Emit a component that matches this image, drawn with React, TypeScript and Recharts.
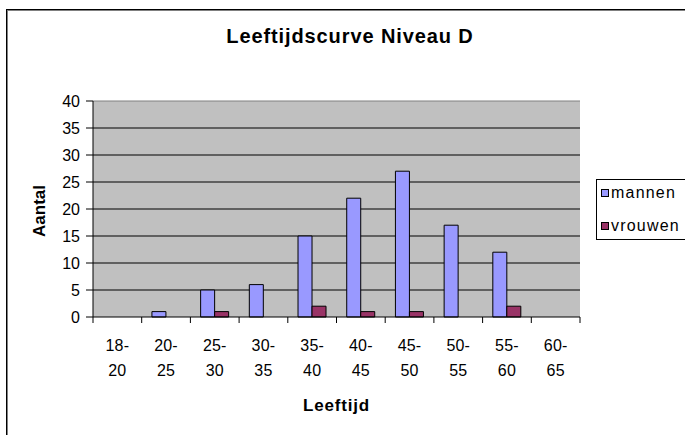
import React from 'react';
import { BarChart, Bar, XAxis, YAxis, CartesianGrid, Legend, ReferenceLine, Label } from 'recharts';

const categories = ['18-20', '20-25', '25-30', '30-35', '35-40', '40-45', '45-50', '50-55', '55-60', '60-65'];
const mannen = [0, 1, 5, 6, 15, 22, 27, 17, 12, 0];
const vrouwen = [0, 0, 1, 0, 2, 1, 1, 0, 2, 0];
const yTicks = [0, 5, 10, 15, 20, 25, 30, 35, 40];

const data = categories.map((c, i) => ({ cat: c, mannen: mannen[i], vrouwen: vrouwen[i] }));

const W = 685;
const H = 435;
const PLOT_W = 487;
const HALF_BAND = PLOT_W / categories.length / 2;
const FONT = 'Arial, "Liberation Sans", sans-serif';

const CatTick = (props: any) => {
    const { x, y, payload, index } = props;
    const parts = String(payload.value).split('-');
    const last = index === categories.length - 1;
    return (
        <g>
            <line x1={x - HALF_BAND} y1={y - 6} x2={x - HALF_BAND} y2={y} stroke="#000" />
            {last && <line x1={x + HALF_BAND} y1={y - 6} x2={x + HALF_BAND} y2={y} stroke="#000" />}
            <text x={x} y={y + 28} textAnchor="middle" fontSize={16} fontFamily={FONT} fill="#000" letterSpacing={0.2}>
                {parts[0] + '-'}
            </text>
            <text x={x} y={y + 53} textAnchor="middle" fontSize={16} fontFamily={FONT} fill="#000" letterSpacing={0.2}>
                {parts[1]}
            </text>
        </g>
    );
};

const LegendBox = (props: any) => {
    const items = props.payload || [];
    return (
        <div style={{ border: '1px solid #000', background: '#fff', width: 100, height: 61, boxSizing: 'border-box', fontFamily: FONT, fontSize: 16 }}>
            {items.map((it: any, i: number) => (
                <div key={it.value} style={{ position: 'absolute', left: 5, top: 5 + i * 33, display: 'flex', alignItems: 'center', whiteSpace: 'nowrap' }}>
                    <span style={{ display: 'inline-block', width: 6, height: 6, background: it.color, border: '1px solid #000', marginRight: 2 }} />
                    <span style={{ letterSpacing: 1.2 }}>{it.value}</span>
                </div>
            ))}
        </div>
    );
};

export default function App() {
    return (
        <div style={{ position: 'absolute', left: 0, top: 0, width: W, height: H, overflow: 'hidden', background: '#fff' }}>
            <div style={{ position: 'absolute', left: 6, top: 9, width: 720, height: 460, border: '1px solid #000', boxShadow: 'inset 1px 1px 0 #808080' }} />
            <div style={{ position: 'absolute', left: 0, top: 25, width: 700, textAlign: 'center', fontFamily: FONT, fontWeight: 'bold', fontSize: 20, letterSpacing: 0.9 }}>
                Leeftijdscurve Niveau D
            </div>
            <div style={{ position: 'absolute', left: 40, top: 211, transform: 'translate(-50%, -50%) rotate(-90deg)', fontFamily: FONT, fontWeight: 'bold', fontSize: 17, whiteSpace: 'nowrap' }}>
                Aantal
            </div>
            <BarChart
                width={W}
                height={H}
                data={data}
                margin={{ top: 101, right: 105, bottom: 38, left: 43 }}
                barCategoryGap="21%"
                barGap={0}
                style={{ position: 'absolute', left: 0, top: 0 }}
            >
                <CartesianGrid fill="#C0C0C0" vertical={false} stroke="#000" horizontalValues={[5, 10, 15, 20, 25, 30, 35]} />
                <XAxis dataKey="cat" height={80} tickSize={6} tickMargin={0} tickLine={false} tick={<CatTick />} axisLine={{ stroke: '#000' }} interval={0}>
                    <Label value="Leeftijd" position="bottom" offset={2} fontFamily={FONT} fontWeight="bold" fontSize={17} fill="#000" letterSpacing={0.8} />
                </XAxis>
                <YAxis
                    domain={[0, 40]}
                    ticks={yTicks}
                    width={50}
                    tickSize={7}
                    tickMargin={6}
                    interval={0}
                    axisLine={{ stroke: '#000' }}
                    tickLine={{ stroke: '#000' }}
                    tick={{ fill: '#000', fontSize: 16, fontFamily: FONT }}
                />
                <YAxis yAxisId="r" orientation="right" width={0} domain={[0, 40]} tick={false} tickLine={false} axisLine={{ stroke: '#808080' }} />
                <ReferenceLine y={40} stroke="#808080" />
                <Legend layout="horizontal" verticalAlign="middle" align="center" content={<LegendBox />} wrapperStyle={{ position: 'absolute', left: 596, top: 179, width: 100, height: 61 }} />
                <Bar dataKey="mannen" name="mannen" fill="#9999FF" stroke="#000" strokeWidth={1} isAnimationActive={false} />
                <Bar dataKey="vrouwen" name="vrouwen" fill="#993366" stroke="#000" strokeWidth={1} isAnimationActive={false} />
            </BarChart>
        </div>
    );
}
